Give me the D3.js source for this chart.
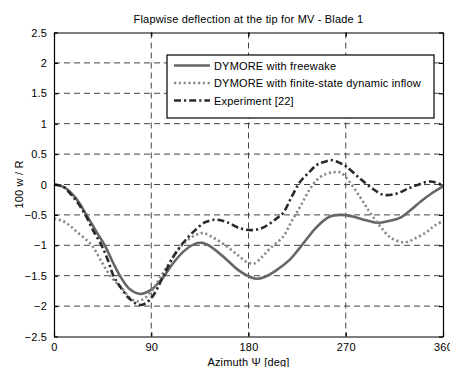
<!DOCTYPE html>
<html>
<head>
<meta charset="utf-8">
<script src="https://cdn.jsdelivr.net/npm/d3@7"></script>
<style>
  body { margin: 0; background: #fff; }
  svg { display: block; font-family: "Liberation Sans", Arial, sans-serif; }
  .grid line { stroke: #444; stroke-dasharray: 6,4; stroke-width: 1; }
  .lbl { font-size: 11px; letter-spacing: 0.18px; }
</style>
</head>
<body>
<div id="chart"></div>
<script>
// azimuth (deg) and 100 w / R for each series
var freewakeAz = [0, 10, 20, 30, 40, 47, 55, 61, 70, 80, 90, 100, 110, 120, 130, 137, 145, 160, 170, 178, 187, 195, 205, 218, 228, 243, 255, 265, 275, 285, 300, 310, 320, 330, 340, 350, 360];
var freewakeW = [0, -0.05, -0.22, -0.5, -0.8, -1.0, -1.3, -1.5, -1.72, -1.8, -1.73, -1.55, -1.3, -1.1, -0.98, -0.96, -1.02, -1.24, -1.4, -1.49, -1.55, -1.52, -1.42, -1.24, -1.03, -0.7, -0.53, -0.5, -0.52, -0.57, -0.63, -0.6, -0.55, -0.42, -0.27, -0.14, -0.03];

var inflowAz = [0, 8, 15, 21, 28, 35, 45, 52, 58, 64, 70, 76, 83, 90, 100, 110, 120, 130, 138, 148, 160, 170, 178, 185, 192, 200, 212, 220, 228, 236, 243, 250, 258, 265, 271, 283, 292, 302, 312, 325, 335, 345, 352, 360];
var inflowW = [-0.56, -0.6, -0.68, -0.78, -0.88, -1.0, -1.3, -1.5, -1.62, -1.73, -1.86, -1.92, -1.88, -1.76, -1.48, -1.2, -0.97, -0.84, -0.8, -0.88, -1.02, -1.16, -1.27, -1.3, -1.2, -1.05, -0.86, -0.6, -0.36, -0.1, 0.07, 0.16, 0.2, 0.2, 0.1, -0.2, -0.45, -0.69, -0.88, -0.95, -0.88, -0.78, -0.68, -0.6];

var expAz = [0, 8, 15, 22, 29, 36, 44, 50, 55, 62, 70, 79, 85, 92, 100, 110, 120, 129, 140, 150, 160, 172, 183, 192, 200, 206, 212, 220, 228, 236, 243, 250, 257, 265, 271, 283, 295, 305, 317, 326, 336, 348, 360];
var expW = [0, -0.03, -0.15, -0.3, -0.5, -0.75, -1.0, -1.25, -1.5, -1.7, -1.88, -1.98, -1.95, -1.82, -1.55, -1.2, -0.95, -0.78, -0.62, -0.58, -0.62, -0.72, -0.75, -0.72, -0.64, -0.56, -0.47, -0.2, 0.05, 0.2, 0.32, 0.37, 0.4, 0.35, 0.29, 0.1, -0.07, -0.17, -0.15, -0.08, -0.01, 0.05, -0.01];

var xTicks = [0, 90, 180, 270, 360];
var yTicks = [-2.5, -2, -1.5, -1, -0.5, 0, 0.5, 1, 1.5, 2, 2.5];
var seriesNames = ["DYMORE with freewake", "DYMORE with finite-state dynamic inflow", "Experiment [22]"];

var svgWidth = 450, svgHeight = 367;
var margin = { top: 32.5, right: 7, bottom: 30.5, left: 54 };
var width = svgWidth - margin.left - margin.right;
var height = svgHeight - margin.top - margin.bottom;

var svg = d3.select("#chart").append("svg")
  .attr("width", svgWidth)
  .attr("height", svgHeight);

var chartGroup = svg.append("g")
  .attr("transform", `translate(${margin.left}, ${margin.top})`);

var xScale = d3.scaleLinear().domain([0, 360]).range([0, width]);
var yScale = d3.scaleLinear().domain([-2.5, 2.5]).range([height, 0]);

// dashed grid
var grid = chartGroup.append("g").classed("grid", true);
grid.selectAll(".vg")
  .data(xTicks.slice(1, -1))
  .enter().append("line")
  .attr("x1", d => xScale(d)).attr("x2", d => xScale(d))
  .attr("y1", 0).attr("y2", height);
grid.selectAll(".hg")
  .data(yTicks.slice(1, -1))
  .enter().append("line")
  .attr("x1", 0).attr("x2", width)
  .attr("y1", d => yScale(d)).attr("y2", d => yScale(d));

// series lines
var line = d3.line()
  .x(d => xScale(d[0]))
  .y(d => yScale(d[1]))
  .curve(d3.curveCatmullRom.alpha(0.5));

var series = [
  { pts: d3.zip(freewakeAz, freewakeW), color: "#666", dash: null, width: 2.6 },
  { pts: d3.zip(inflowAz, inflowW), color: "#8a8a8a", dash: "2.2,2.6", width: 2.6 },
  { pts: d3.zip(expAz, expW), color: "#2a2a2a", dash: "7,3,2.2,3", width: 2.6 }
];

series.forEach(function (s) {
  chartGroup.append("path")
    .datum(s.pts)
    .attr("fill", "none")
    .attr("stroke", s.color)
    .attr("stroke-width", s.width)
    .attr("stroke-dasharray", s.dash)
    .attr("d", line);
});

// axes, MATLAB style with inward ticks
var bottomAxis = d3.axisBottom(xScale).tickValues(xTicks).tickSizeInner(-4).tickSizeOuter(0).tickPadding(7);
var leftAxis = d3.axisLeft(yScale).tickValues(yTicks).tickSizeInner(-4).tickSizeOuter(0).tickPadding(7)
  .tickFormat(d3.format(""));
var topAxis = d3.axisTop(xScale).tickValues(xTicks).tickSizeInner(-4).tickSizeOuter(0).tickFormat("");
var rightAxis = d3.axisRight(yScale).tickValues(yTicks).tickSizeInner(-4).tickSizeOuter(0).tickFormat("");

[
  chartGroup.append("g").attr("transform", `translate(0, ${height})`).call(bottomAxis),
  chartGroup.append("g").call(leftAxis),
  chartGroup.append("g").call(topAxis),
  chartGroup.append("g").attr("transform", `translate(${width}, 0)`).call(rightAxis)
].forEach(function (g) {
  g.selectAll("path, line").attr("stroke", "#000").attr("stroke-width", 1.2);
  g.selectAll("text").attr("fill", "#000").attr("font-family", null).attr("font-size", null).classed("lbl", true);
});

// title and axis labels
svg.append("text")
  .classed("lbl", true)
  .attr("x", margin.left + width / 2)
  .attr("y", 23)
  .attr("text-anchor", "middle")
  .text("Flapwise deflection at the tip for MV - Blade 1");

svg.append("text")
  .classed("lbl", true)
  .attr("x", margin.left + width / 2)
  .attr("y", 366)
  .attr("text-anchor", "middle")
  .text("Azimuth \u03A8 [deg]");

svg.append("text")
  .classed("lbl", true)
  .attr("transform", `translate(23, ${margin.top + height / 2}) rotate(-90)`)
  .attr("text-anchor", "middle")
  .text("100 w / R");

// legend
var legend = chartGroup.append("g")
  .attr("transform", `translate(${167 - margin.left}, ${55 - margin.top})`);

legend.append("rect")
  .attr("width", 267).attr("height", 63)
  .attr("fill", "#fff").attr("stroke", "#000").attr("stroke-width", 1.2);

var items = legend.selectAll(".item")
  .data(seriesNames)
  .enter().append("g")
  .attr("transform", (d, i) => `translate(0, ${10.5 + i * 17.5})`);

items.append("line")
  .attr("x1", 7).attr("x2", 43).attr("y1", 0).attr("y2", 0)
  .attr("stroke", (d, i) => series[i].color)
  .attr("stroke-width", (d, i) => series[i].width)
  .attr("stroke-dasharray", (d, i) => series[i].dash);

items.append("text")
  .classed("lbl", true)
  .attr("x", 47).attr("y", 4)
  .text(d => d);
</script>
</body>
</html>
